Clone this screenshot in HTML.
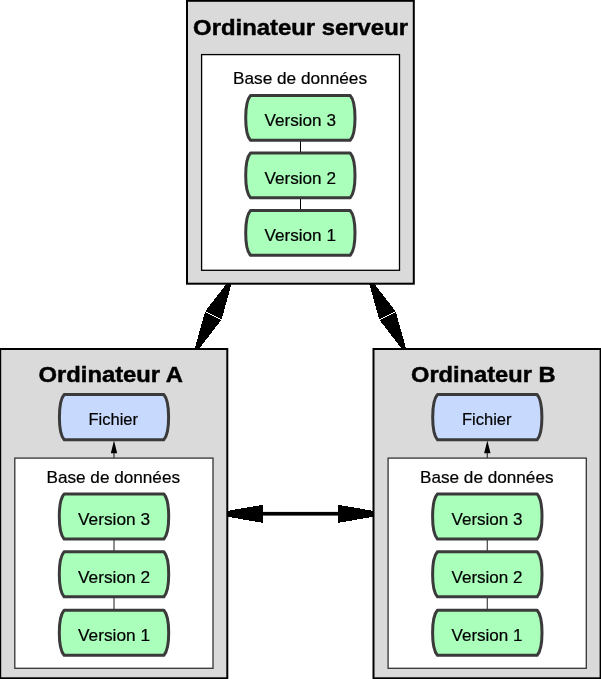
<!DOCTYPE html>
<html><head><meta charset="utf-8"><style>
html,body{margin:0;padding:0;background:#fff;width:601px;height:679px;overflow:hidden}
svg{display:block;will-change:transform}
text{font-family:"Liberation Sans",sans-serif;fill:#000}
</style></head><body>
<svg width="601" height="679" viewBox="0 0 601 679">
<path d="M234.39,273.60 L221.63,319.28 L205.37,311.11 Z" fill="#000" shape-rendering="crispEdges"/><path d="M192.21,357.60 L221.23,320.09 L204.97,311.92 Z" fill="#000" shape-rendering="crispEdges"/>
<path d="M366.41,273.60 L395.43,311.11 L379.17,319.28 Z" fill="#000" shape-rendering="crispEdges"/><path d="M408.59,357.60 L395.83,311.92 L379.57,320.09 Z" fill="#000" shape-rendering="crispEdges"/>
<rect x="250" y="511.9" width="100" height="3.7" fill="#000"/>
<path d="M210.60,513.75 L262.80,504.80 L262.80,522.90 Z" fill="#000" shape-rendering="crispEdges"/>
<path d="M390.20,513.75 L338.00,504.80 L338.00,522.90 Z" fill="#000" shape-rendering="crispEdges"/>
<rect x="187" y="0.8" width="226.8" height="282.9" fill="#dadada" stroke="#000" stroke-width="2"/>
<text id="title_srv" stroke="#000" stroke-width="0.45" x="193.10" y="35.00" font-size="21.5" font-weight="bold" textLength="214.91" lengthAdjust="spacingAndGlyphs">Ordinateur serveur</text>
<rect x="201.6" y="54.6" width="197.9" height="215.7" fill="#fff" stroke="#000" stroke-width="1.3"/>
<text id="base_srv" stroke="#000" stroke-width="0.2" x="233.00" y="84.00" font-size="16.2" font-weight="normal" textLength="134.03" lengthAdjust="spacingAndGlyphs">Base de données</text>
<rect x="300" y="140.30" width="1" height="12.80" fill="#000"/>
<rect x="300" y="197.80" width="1" height="12.80" fill="#000"/>
<path d="M250.50,95.60 L350.20,95.60 C356.60,102.75 356.60,133.15 350.20,140.30 L250.50,140.30 C244.10,133.15 244.10,102.75 250.50,95.60 Z" fill="#aaffbb" stroke="#3a3a3a" stroke-width="3.0" stroke-linejoin="round"/>
<text id="v3_srv" stroke="#000" stroke-width="0.2" x="264.50" y="126.00" font-size="16.2" font-weight="normal" textLength="71.43" lengthAdjust="spacingAndGlyphs">Version 3</text>
<path d="M250.50,153.10 L350.20,153.10 C356.60,160.25 356.60,190.65 350.20,197.80 L250.50,197.80 C244.10,190.65 244.10,160.25 250.50,153.10 Z" fill="#aaffbb" stroke="#3a3a3a" stroke-width="3.0" stroke-linejoin="round"/>
<text id="v2_srv" stroke="#000" stroke-width="0.2" x="264.50" y="184.00" font-size="16.2" font-weight="normal" textLength="71.43" lengthAdjust="spacingAndGlyphs">Version 2</text>
<path d="M250.50,210.60 L350.20,210.60 C356.60,217.75 356.60,248.15 350.20,255.30 L250.50,255.30 C244.10,248.15 244.10,217.75 250.50,210.60 Z" fill="#aaffbb" stroke="#3a3a3a" stroke-width="3.0" stroke-linejoin="round"/>
<text id="v1_srv" stroke="#000" stroke-width="0.2" x="264.50" y="241.00" font-size="16.2" font-weight="normal" textLength="71.43" lengthAdjust="spacingAndGlyphs">Version 1</text>
<rect x="0.20" y="349" width="227.1" height="329.3" fill="#dadada" stroke="#000" stroke-width="2"/>
<text id="title_A" stroke="#000" stroke-width="0.45" x="38.50" y="382.00" font-size="21.5" font-weight="bold" textLength="144.52" lengthAdjust="spacingAndGlyphs">Ordinateur A</text>
<rect x="113.40" y="450" width="1.2" height="8" fill="#333"/>
<path d="M64.20,394.60 L163.80,394.60 C170.20,401.82 170.20,432.48 163.80,439.70 L64.20,439.70 C57.80,432.48 57.80,401.82 64.20,394.60 Z" fill="#c7d9fd" stroke="#3a3a3a" stroke-width="3.0" stroke-linejoin="round"/>
<path d="M114.00,440.6 L117.20,453.2 L110.80,453.2 Z" fill="#000"/>
<text id="fichier_A" stroke="#000" stroke-width="0.2" x="88.50" y="425.00" font-size="16.2" font-weight="normal" textLength="49.54" lengthAdjust="spacingAndGlyphs">Fichier</text>
<rect x="14.80" y="458.1" width="198.2" height="210.2" fill="#fff" stroke="#333" stroke-width="1.3"/>
<text id="base_A" stroke="#000" stroke-width="0.2" x="46.50" y="483.00" font-size="16.2" font-weight="normal" textLength="133.53" lengthAdjust="spacingAndGlyphs">Base de données</text>
<rect x="113.40" y="539.00" width="1.2" height="12.70" fill="#444"/>
<rect x="113.40" y="596.70" width="1.2" height="13.60" fill="#444"/>
<path d="M64.10,494.00 L163.90,494.00 C170.30,501.20 170.30,531.80 163.90,539.00 L64.10,539.00 C57.70,531.80 57.70,501.20 64.10,494.00 Z" fill="#aaffbb" stroke="#3a3a3a" stroke-width="3.0" stroke-linejoin="round"/>
<text id="v3_A" stroke="#000" stroke-width="0.2" x="78.00" y="525.00" font-size="16.2" font-weight="normal" textLength="72.04" lengthAdjust="spacingAndGlyphs">Version 3</text>
<path d="M64.10,551.70 L163.90,551.70 C170.30,558.90 170.30,589.50 163.90,596.70 L64.10,596.70 C57.70,589.50 57.70,558.90 64.10,551.70 Z" fill="#aaffbb" stroke="#3a3a3a" stroke-width="3.0" stroke-linejoin="round"/>
<text id="v2_A" stroke="#000" stroke-width="0.2" x="78.00" y="583.00" font-size="16.2" font-weight="normal" textLength="72.04" lengthAdjust="spacingAndGlyphs">Version 2</text>
<path d="M64.10,610.30 L163.90,610.30 C170.30,617.50 170.30,648.10 163.90,655.30 L64.10,655.30 C57.70,648.10 57.70,617.50 64.10,610.30 Z" fill="#aaffbb" stroke="#3a3a3a" stroke-width="3.0" stroke-linejoin="round"/>
<text id="v1_A" stroke="#000" stroke-width="0.2" x="78.00" y="641.00" font-size="16.2" font-weight="normal" textLength="72.04" lengthAdjust="spacingAndGlyphs">Version 1</text>
<rect x="373.50" y="349" width="227.1" height="329.3" fill="#dadada" stroke="#000" stroke-width="2"/>
<text id="title_B" stroke="#000" stroke-width="0.45" x="411.00" y="382.00" font-size="21.5" font-weight="bold" textLength="144.52" lengthAdjust="spacingAndGlyphs">Ordinateur B</text>
<rect x="486.70" y="450" width="1.2" height="8" fill="#333"/>
<path d="M437.50,394.60 L537.10,394.60 C543.50,401.82 543.50,432.48 537.10,439.70 L437.50,439.70 C431.10,432.48 431.10,401.82 437.50,394.60 Z" fill="#c7d9fd" stroke="#3a3a3a" stroke-width="3.0" stroke-linejoin="round"/>
<path d="M487.30,440.6 L490.50,453.2 L484.10,453.2 Z" fill="#000"/>
<text id="fichier_B" stroke="#000" stroke-width="0.2" x="462.00" y="425.00" font-size="16.2" font-weight="normal" textLength="49.54" lengthAdjust="spacingAndGlyphs">Fichier</text>
<rect x="388.10" y="458.1" width="198.2" height="210.2" fill="#fff" stroke="#333" stroke-width="1.3"/>
<text id="base_B" stroke="#000" stroke-width="0.2" x="420.00" y="483.00" font-size="16.2" font-weight="normal" textLength="133.53" lengthAdjust="spacingAndGlyphs">Base de données</text>
<rect x="486.70" y="539.00" width="1.2" height="12.70" fill="#444"/>
<rect x="486.70" y="596.70" width="1.2" height="13.60" fill="#444"/>
<path d="M437.40,494.00 L537.20,494.00 C543.60,501.20 543.60,531.80 537.20,539.00 L437.40,539.00 C431.00,531.80 431.00,501.20 437.40,494.00 Z" fill="#aaffbb" stroke="#3a3a3a" stroke-width="3.0" stroke-linejoin="round"/>
<text id="v3_B" stroke="#000" stroke-width="0.2" x="451.50" y="525.00" font-size="16.2" font-weight="normal" textLength="71.02" lengthAdjust="spacingAndGlyphs">Version 3</text>
<path d="M437.40,551.70 L537.20,551.70 C543.60,558.90 543.60,589.50 537.20,596.70 L437.40,596.70 C431.00,589.50 431.00,558.90 437.40,551.70 Z" fill="#aaffbb" stroke="#3a3a3a" stroke-width="3.0" stroke-linejoin="round"/>
<text id="v2_B" stroke="#000" stroke-width="0.2" x="451.50" y="583.00" font-size="16.2" font-weight="normal" textLength="71.02" lengthAdjust="spacingAndGlyphs">Version 2</text>
<path d="M437.40,610.30 L537.20,610.30 C543.60,617.50 543.60,648.10 537.20,655.30 L437.40,655.30 C431.00,648.10 431.00,617.50 437.40,610.30 Z" fill="#aaffbb" stroke="#3a3a3a" stroke-width="3.0" stroke-linejoin="round"/>
<text id="v1_B" stroke="#000" stroke-width="0.2" x="451.50" y="641.00" font-size="16.2" font-weight="normal" textLength="71.02" lengthAdjust="spacingAndGlyphs">Version 1</text>
</svg>
</body></html>
